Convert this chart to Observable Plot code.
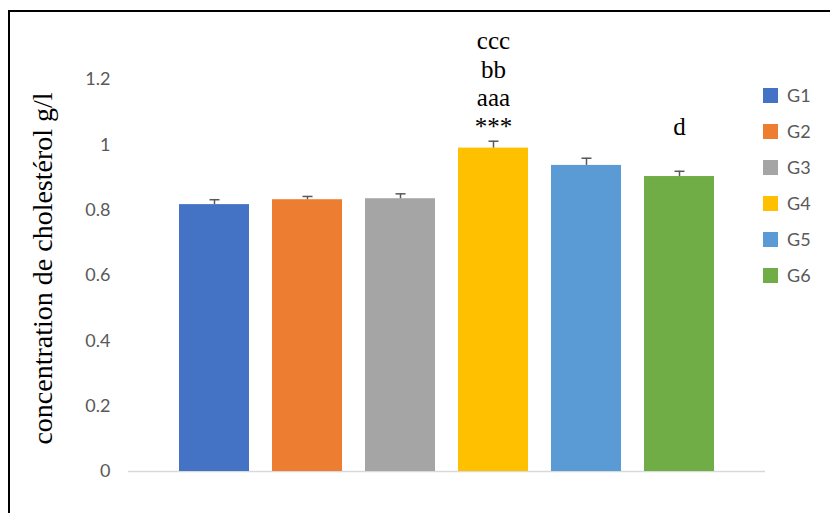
<!DOCTYPE html>
<html><head><meta charset="utf-8">
<script src="https://cdn.jsdelivr.net/npm/d3@7"></script>
<script src="https://cdn.jsdelivr.net/npm/@observablehq/plot@0.6"></script>
<style>
html,body{margin:0;padding:0;background:#fff;overflow:hidden}
#wrap{position:relative;width:830px;height:513px;overflow:hidden}
#frame{position:absolute;left:8px;top:10px;width:900px;height:600px;border:2px solid #000;box-sizing:border-box}
#chart{position:absolute;left:0;top:0}
#legend{position:absolute;left:763px;top:77px;font-family:Lato,"Liberation Sans",sans-serif;font-size:18px;color:#595959}
.item{display:flex;align-items:center;height:36px;margin:0}
.sw{width:15px;height:15px;margin-right:9px}
</style></head>
<body><div id="wrap"><div id="frame"></div><div id="chart"></div><div id="legend"></div></div>
<script>
const groups = ["G1","G2","G3","G4","G5","G6"];
const values = [0.817, 0.832, 0.835, 0.990, 0.937, 0.903];
const errors = [0.015, 0.010, 0.015, 0.021, 0.022, 0.016];
const labels = ["", "", "", "ccc\nbb\naaa\n***", "", "d"];
const labelAt = [null, null, null, 1.011, null, 1.011];
const colors = ["#4472C4","#ED7D31","#A5A5A5","#FFC000","#5B9BD5","#70AD47"];
const yTicks = [0, 0.2, 0.4, 0.6, 0.8, 1, 1.2];

const data = groups.map((g,i)=>({g, v:values[i], e:errors[i], top:values[i]+errors[i], lab:labels[i], ly:labelAt[i]}));
const annot = data.filter(d => d.lab);
const capSymbol = {draw(ctx, size){const w=Math.sqrt(size/Math.PI); ctx.moveTo(-w,0); ctx.lineTo(w,0);}};

const plot = Plot.plot({
  width: 830, height: 513,
  marginLeft: 128, marginRight: 65, marginTop: 79, marginBottom: 42,
  style: {background:"transparent", fontFamily:"Lato, 'Liberation Sans', sans-serif"},
  x: {domain: groups, paddingInner: 0.247, paddingOuter: 0.548, axis: null},
  y: {domain: [0, 1.2], ticks: yTicks, tickFormat: d => String(d), label: null},
  color: {domain: groups, range: colors},
  marks: [
    Plot.axisY({ticks: yTicks, tickFormat: d=>String(d), tickSize: 0, tickPadding: 18, fontSize: 18, color:"#595959", label: null}),
    Plot.ruleY([0], {stroke:"#d9d9d9", strokeWidth:1.5}),
    Plot.barY(data, {x:"g", y:"v", fill:"g"}),
    Plot.ruleX(data, {x:"g", y1:"v", y2:"top", stroke:"#595959", strokeWidth:1.5}),
    Plot.dot(data, {x:"g", y:"top", symbol: capSymbol, r:5, stroke:"#595959", strokeWidth:1.5, fill:"none"}),
    Plot.text(annot, {x:"g", y:"ly", text:"lab", lineAnchor:"bottom", lineHeight:1.15, dy:-6, fontSize:25, fontFamily:"'Liberation Serif', serif", fill:"#000"}),
    Plot.text(["concentration de cholestérol g/l"], {frameAnchor:"left", textAnchor:"middle", rotate:-90, dx:-85, dy:-7, fontSize:28, fontFamily:"'Liberation Serif', serif", fill:"#000"})
  ]
});
document.getElementById("chart").appendChild(plot);

const lg = document.getElementById("legend");
groups.forEach((g,i)=>{
  const d = document.createElement("div"); d.className="item";
  d.innerHTML = `<span class="sw" style="background:${colors[i]}"></span><span>${g}</span>`;
  lg.appendChild(d);
});
</script></body></html>
